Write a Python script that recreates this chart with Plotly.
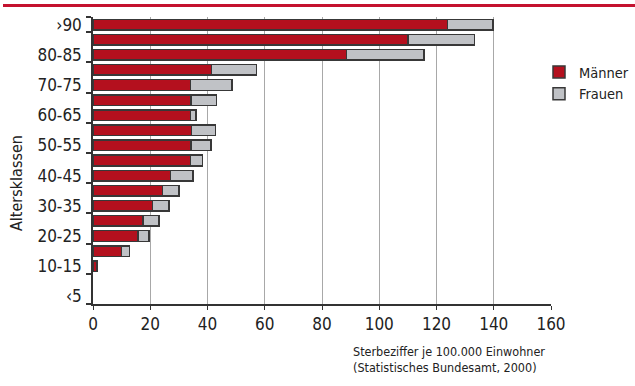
import plotly.graph_objects as go

categories = ["‹5", "5-10", "10-15", "15-20", "20-25", "25-30", "30-35", "35-40", "40-45",
              "45-50", "50-55", "55-60", "60-65", "65-70", "70-75", "75-80", "80-85", "85-90", "›90"]
maenner = [None, None, 1.4, 9.9, 15.7, 17.5, 20.8, 24.3, 27.1, 34.1, 34.3, 34.4, 34.1, 34.2, 34.1, 41.4, 88.6, 110.0, 123.8]
frauen = [None, None, 0.2, 2.9, 3.9, 5.6, 5.8, 5.8, 7.9, 4.1, 6.9, 8.4, 1.8, 8.9, 14.5, 15.7, 27.1, 23.3, 15.9]
x_ticks = [0, 20, 40, 60, 80, 100, 120, 140, 160]
label_cats = ["‹5", "10-15", "20-25", "30-35", "40-45", "50-55", "60-65", "70-75", "80-85", "›90"]

FONT = "DejaVu Sans Condensed, Liberation Sans Narrow, sans-serif"
RED = "#b4101e"
GRAY = "#c0c2c6"
EDGE = "#383838"

ypos = list(range(len(categories)))
fig = go.Figure()
fig.add_trace(go.Bar(y=ypos, x=maenner, orientation="h", name="Männer",
                     marker=dict(color=RED, line=dict(color=EDGE, width=1.5))))
fig.add_trace(go.Bar(y=ypos, x=frauen, orientation="h", name="Frauen",
                     marker=dict(color=GRAY, line=dict(color=EDGE, width=1.5))))

label_pos = [categories.index(c) for c in label_cats]
minor_vals = [i - 0.5 for i in range(0, len(categories), 2)] + [len(categories) - 0.5]

fig.update_layout(
    barmode="stack",
    bargap=0.3,
    width=635, height=386,
    margin=dict(l=93, r=84, t=17, b=82, autoexpand=False),
    paper_bgcolor="white", plot_bgcolor="white",
    font=dict(family=FONT, color="#222222"),
    showlegend=True,
    legend=dict(x=(539 - 93) / 458, y=(304 - 56) / 287, xanchor="left", yanchor="top",
                font=dict(family=FONT, size=14.5, color="#222222"),
                traceorder="normal", itemwidth=30, tracegroupgap=0,
                bgcolor="rgba(0,0,0,0)"),
    xaxis=dict(range=[0, 160], tickvals=x_ticks, ticktext=[str(v) for v in x_ticks],
               showgrid=True, gridcolor="#a8a8a8", gridwidth=1,
               showline=True, linecolor="#333333", linewidth=1.5,
               ticks="outside", ticklen=4, tickcolor="#333333",
               tickfont=dict(family=FONT, size=17, color="#222222"),
               zeroline=False, fixedrange=True),
    yaxis=dict(range=[-0.5, len(categories) - 0.5], tickvals=label_pos, ticktext=label_cats,
               showgrid=False, showline=True, linecolor="#333333", linewidth=1.5,
               ticks="", ticklabelstandoff=6,
               minor=dict(tickvals=minor_vals, ticks="outside", ticklen=5, tickwidth=1.5,
                          tickcolor="#333333", showgrid=False),
               tickfont=dict(family=FONT, size=17, color="#222222"),
               zeroline=False, fixedrange=True),
)

fig.add_annotation(text="Altersklassen", xref="paper", yref="paper",
                   x=(16 - 93) / 458, y=(304 - 183) / 287, textangle=-90,
                   showarrow=False, font=dict(family=FONT, size=16, color="#222222"),
                   xanchor="center", yanchor="middle")
fig.add_annotation(text="Sterbeziffer je 100.000 Einwohner<br>(Statistisches Bundesamt, 2000)",
                   xref="paper", yref="paper", x=(351 - 93) / 458, y=(304 - 342) / 287,
                   xanchor="left", yanchor="top", align="left", showarrow=False,
                   font=dict(family=FONT, size=12.5, color="#222222"))
fig.add_shape(type="line", xref="paper", yref="paper",
              x0=(3 - 93) / 458, x1=(635 - 93) / 458, y0=(304 - 5.5) / 287, y1=(304 - 5.5) / 287,
              line=dict(color="#c4122f", width=3))

fig.write_html("out.html")
